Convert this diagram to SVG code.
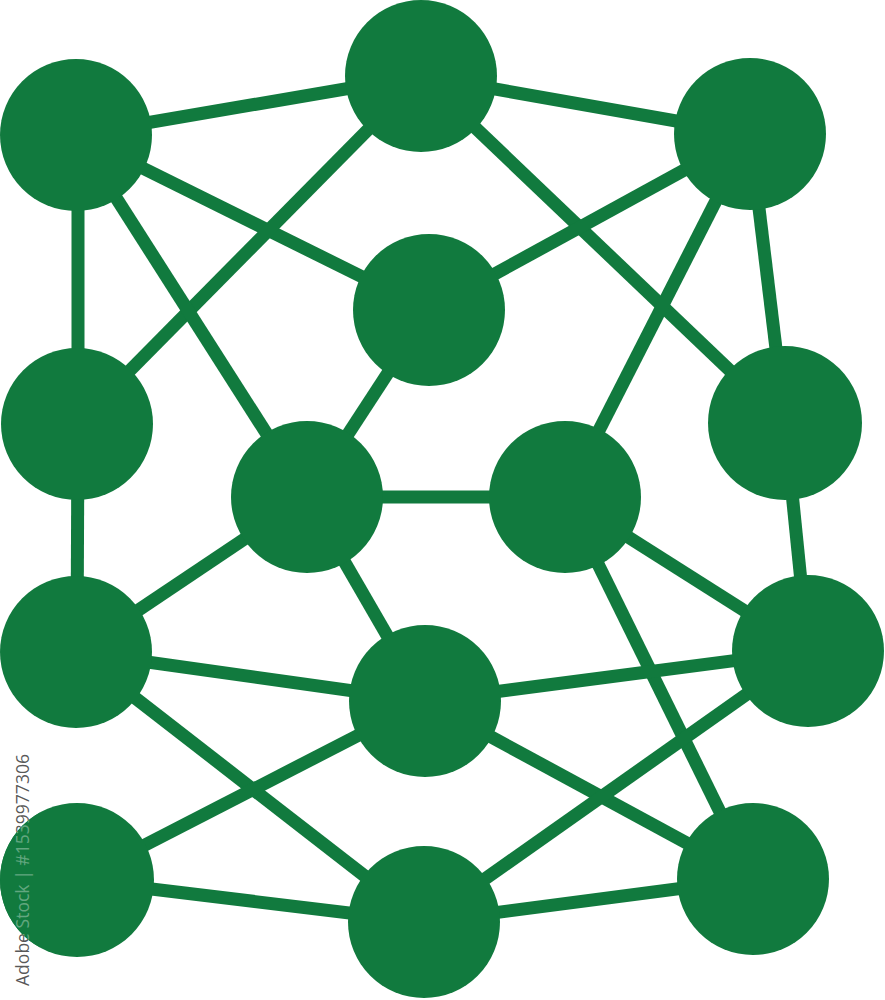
<svg xmlns="http://www.w3.org/2000/svg" width="885" height="1000" viewBox="0 0 885 1000">
<style>
.e{stroke:#117a3e;stroke-width:13;fill:none}
.n{fill:#117a3e}
.wm{font-family:"Open Sans","DejaVu Sans",sans-serif;font-size:18px;fill:#3a3a3a;fill-opacity:0.85}
.wm2{font-family:"Open Sans","DejaVu Sans",sans-serif;font-size:18px;fill:#ffffff;fill-opacity:0.35}
</style>
<defs>
<clipPath id="c12"><circle cx="77" cy="880" r="77"/></clipPath>
</defs>
<rect width="885" height="1000" fill="#fff"/>
<g id="connectors" class="e">
<line x1="76" y1="135" x2="421" y2="76"/>
<line x1="421" y1="76" x2="750" y2="134"/>
<line x1="76" y1="135" x2="429" y2="310"/>
<line x1="421" y1="76" x2="77" y2="424"/>
<line x1="421" y1="76" x2="785" y2="423"/>
<line x1="750" y1="134" x2="429" y2="310"/>
<line x1="750" y1="134" x2="565" y2="497"/>
<line x1="750" y1="134" x2="785" y2="423"/>
<line x1="78" y1="135" x2="78" y2="424"/>
<line x1="76" y1="135" x2="307" y2="497"/>
<line x1="429" y1="310" x2="307" y2="497"/>
<line x1="78" y1="424" x2="77" y2="652"/>
<line x1="307" y1="497" x2="565" y2="497"/>
<line x1="307" y1="497" x2="76" y2="652"/>
<line x1="307" y1="497" x2="425" y2="701"/>
<line x1="785" y1="423" x2="808" y2="651"/>
<line x1="565" y1="497" x2="808" y2="651"/>
<line x1="565" y1="497" x2="753" y2="879"/>
<line x1="76" y1="652" x2="425" y2="701"/>
<line x1="425" y1="701" x2="808" y2="651"/>
<line x1="76" y1="652" x2="424" y2="922"/>
<line x1="425" y1="701" x2="77" y2="880"/>
<line x1="425" y1="701" x2="753" y2="879"/>
<line x1="808" y1="651" x2="424" y2="922"/>
<line x1="77" y1="880" x2="424" y2="922"/>
<line x1="424" y1="922" x2="753" y2="879"/>
</g>
<g id="n1"><circle class="n" cx="76" cy="135" r="76"/></g>
<g id="n2"><circle class="n" cx="421" cy="76" r="76"/></g>
<g id="n3"><circle class="n" cx="750" cy="134" r="76"/></g>
<g id="n4"><circle class="n" cx="429" cy="310" r="76"/></g>
<g id="n5"><circle class="n" cx="77" cy="424" r="76"/></g>
<g id="n6"><circle class="n" cx="785" cy="423" r="77"/></g>
<g id="n7"><circle class="n" cx="307" cy="497" r="76"/></g>
<g id="n8"><circle class="n" cx="565" cy="497" r="76"/></g>
<g id="n9"><circle class="n" cx="76" cy="652" r="76"/></g>
<g id="n10"><circle class="n" cx="808" cy="651" r="76"/></g>
<g id="n11"><circle class="n" cx="425" cy="701" r="76"/></g>
<g id="n12"><circle class="n" cx="77" cy="880" r="77"/></g>
<g id="n13"><circle class="n" cx="424" cy="922" r="76"/></g>
<g id="n14"><circle class="n" cx="753" cy="879" r="76"/></g>
<g id="watermark">
<text class="wm" transform="translate(29,986) rotate(-90)" textLength="232" lengthAdjust="spacingAndGlyphs">Adobe Stock | #1539977306</text>
<g clip-path="url(#c12)"><rect x="0" y="790" width="40" height="180" fill="#117a3e"/><text class="wm2" transform="translate(29,986) rotate(-90)" textLength="232" lengthAdjust="spacingAndGlyphs">Adobe Stock | #1539977306</text></g>
</g>
</svg>
